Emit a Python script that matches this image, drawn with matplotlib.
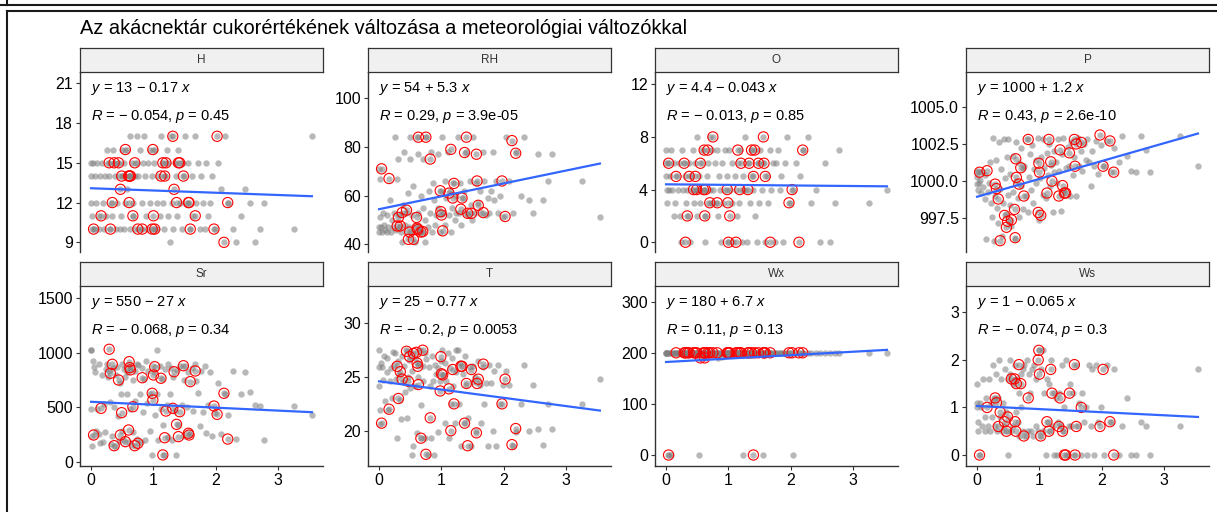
import numpy as np
import matplotlib
matplotlib.use("Agg")
import matplotlib.pyplot as plt
from matplotlib.lines import Line2D
from matplotlib.transforms import blended_transform_factory

plt.rcParams['font.family'] = ['Liberation Sans', 'DejaVu Sans']
plt.rcParams['mathtext.fontset'] = 'custom'
plt.rcParams['mathtext.rm'] = 'Liberation Sans'
plt.rcParams['mathtext.it'] = 'Liberation Sans:italic'

title = "Az akácnektár cukorértékének változása a meteorológiai változókkal"
panels = ['H', 'RH', 'O', 'P', 'Sr', 'T', 'Wx', 'Ws']

# sugar value of the highlighted (acacia) samples
sugar_red = [0.04, 0.16, 0.29, 0.31, 0.34, 0.37, 0.44, 0.47, 0.49, 0.55,
             0.60, 0.61, 0.62, 0.63, 0.67, 0.70, 0.75, 0.82, 0.98, 0.99,
             1.00, 1.02, 1.12, 1.15, 1.18, 1.20, 1.31, 1.33, 1.37, 1.40,
             1.42, 1.48, 1.56, 1.57, 1.59, 1.67, 1.97, 2.02, 2.13, 2.19]

# sugar value of the remaining samples
sugar_grey = [0.00, 0.00, 0.00, 0.01, 0.02, 0.03, 0.05, 0.06, 0.08, 0.10, 0.12, 0.13, 0.15, 0.17, 0.19, 0.21, 0.22, 0.24,
              0.26, 0.27, 0.29, 0.30, 0.32, 0.33, 0.35, 0.36, 0.38, 0.40, 0.41, 0.43, 0.44, 0.46, 0.48, 0.49,
              0.50, 0.52, 0.53, 0.55, 0.57, 0.58, 0.60, 0.62, 0.63, 0.65, 0.67, 0.68, 0.70, 0.71, 0.73, 0.74,
              0.76, 0.78, 0.80, 0.81, 0.83, 0.85, 0.87, 0.88, 0.90, 0.92, 0.94, 0.95, 0.97, 0.99,
              1.01, 1.03, 1.05, 1.06, 1.08, 1.10, 1.12, 1.14, 1.16, 1.17, 1.19, 1.21, 1.23, 1.24,
              1.26, 1.28, 1.30, 1.32, 1.34, 1.36, 1.38, 1.40, 1.43, 1.45, 1.47, 1.49,
              1.51, 1.53, 1.56, 1.58, 1.61, 1.63, 1.66, 1.68, 1.71, 1.74,
              1.76, 1.79, 1.82, 1.85, 1.88, 1.91, 1.94, 1.98,
              2.03, 2.08, 2.14, 2.20, 2.27, 2.32, 2.40, 2.47,
              2.55, 2.62, 2.70, 2.77, 3.26, 3.54]

H_red = [10, 11, 15, 10, 12, 15, 15, 13, 14, 16, 14, 12, 14, 14, 11, 15, 10, 10, 10, 16,
         11, 10, 14, 15, 14, 15, 17, 13, 12, 15, 15, 14, 12, 12, 10, 11, 10, 17, 9, 12]
H_grey = [15, 14, 12, 10, 11, 15, 10, 14, 12, 15, 11, 10, 14, 15, 12, 10, 14, 11,
          16, 15, 14, 10, 12, 11, 16, 15, 14, 10, 12, 15, 14, 10, 11, 16,
          14, 15, 10, 12, 16, 13, 14, 10, 17, 15, 12, 11, 14, 10, 17, 15,
          14, 16, 10, 12, 15, 17, 14, 11, 10, 15, 16, 12, 14, 10,
          15, 16, 12, 10, 14, 11, 17, 15, 12, 10, 14, 16, 11, 15,
          9, 17, 12, 10, 15, 14, 11, 16, 12, 10, 15, 14,
          17, 12, 15, 10, 14, 11, 17, 12, 15, 10,
          14, 12, 10, 15, 11, 12, 14, 10,
          15, 13, 17, 12, 10, 9, 11, 13,
          12, 9, 10, 12, 10, 17]

RH_red = [71, 67, 47.5, 51, 47.5, 53, 54, 42, 45, 42, 51, 46.6, 46, 84, 45, 45.2, 84, 75, 62, 53.4,
          52, 45.5, 61, 79, 59, 65, 54.4, 59, 77.7, 84, 52.7, 52.7, 77, 66, 56, 53, 66, 51.4, 82.6, 77.4]
RH_grey = [47, 45, 71, 51, 67, 47, 45, 53, 48, 46, 45, 52, 47, 58, 45, 50, 47, 53,
           84, 46, 67, 75, 52, 47, 45, 41, 56, 78, 48, 53, 45, 61, 47, 75,
           84, 45, 52, 64, 41, 48, 84, 53, 77, 47, 60, 45, 55, 75, 41, 50,
           84, 47, 62, 53, 78, 45, 65, 58, 48, 52, 55, 77, 45, 62,
           84, 53, 66, 48, 59, 78, 52, 62, 45, 55, 65, 50, 53, 60,
           84, 53, 65, 48, 59, 62, 53, 78, 52, 66, 56, 50,
           84, 53, 65, 57, 62, 53, 78, 66, 52, 59,
           53, 62, 78, 58, 66, 53, 60, 51,
           84, 66, 53, 78, 60, 84, 58, 53,
           77, 58, 66, 77, 66, 51]

O_red = [6, 5, 6, 0, 2, 5, 4, 5, 4, 6, 4, 7, 2, 4, 7, 3, 8, 3, 4, 3,
         0, 2, 0, 7, 4, 6, 4, 6, 7, 5, 7, 6, 8, 6, 5, 0, 3, 4, 0, 7]
O_grey = [6, 7, 5, 4, 3, 6, 4, 5, 7, 4, 6, 2, 3, 5, 4, 6, 2, 0,
          7, 4, 6, 5, 3, 4, 2, 6, 0, 5, 4, 7, 3, 6, 4, 2,
          8, 4, 5, 3, 6, 7, 4, 0, 2, 5, 3, 6, 8, 4, 7, 3,
          4, 6, 3, 7, 2, 5, 4, 0, 6, 3, 7, 4, 5, 0,
          7, 4, 3, 6, 0, 5, 4, 2, 6, 3, 7, 0, 4, 5,
          8, 4, 0, 6, 3, 7, 5, 4, 2, 0, 6, 3,
          7, 4, 6, 0, 5, 3, 7, 4, 6, 0,
          6, 7, 4, 5, 0, 6, 8, 3,
          4, 6, 5, 7, 8, 3, 4, 0,
          6, 0, 3, 7, 3, 4]

P_red = [1000.6, 1000.7, 999.8, 999.5, 998.8, 996.0, 997.7, 996.9, 997.3, 997.4,
         998.1, 996.2, 1001.5, 1000.25, 999.8, 1000.9, 999.0, 1002.8, 997.9, 1001.2,
         1000.6, 997.7, 999.2, 1002.8, 1001.3, 1000.0, 999.0, 1002.1, 999.7, 999.2,
         999.2, 1001.9, 1002.8, 1001.0, 1002.5, 1002.6, 1003.1, 1001.0, 1002.7, 1000.6]
P_grey = [1000.6, 999.8, 1000.3, 999.4, 1000.7, 999.9, 1000.1, 999.2, 1000.6, 999.6, 998.8, 1000.4, 996.1, 999.3, 999.9, 1001.3, 998.5, 997.6,
          1002.9, 996.0, 999.0, 1001.4, 998.2, 997.2, 1002.6, 999.5, 1000.8, 996.3, 998.5, 1002.8, 1000.2, 997.8, 1001.6, 999.1,
          1002.8, 998.4, 1000.5, 997.0, 1001.7, 999.3, 996.1, 1002.6, 1000.0, 998.9, 1001.2, 997.6, 999.7, 1002.2, 1000.9, 998.1,
          1001.0, 999.0, 1002.8, 997.9, 1000.3, 1001.8, 999.4, 1002.4, 998.5, 1000.8, 1001.4, 999.9, 1002.9, 997.4,
          1000.2, 1001.6, 999.1, 1002.8, 1000.9, 998.9, 1001.9, 1000.4, 1002.5, 999.7, 1001.1, 997.9, 1002.0, 1000.6,
          1001.3, 999.9, 1002.8, 1000.7, 998.0, 1001.8, 1002.9, 999.4, 1000.9, 1002.3, 1001.0, 999.0,
          1002.6, 1000.4, 1001.6, 999.0, 1002.9, 1001.0, 1002.0, 1000.7, 1002.5, 1001.4,
          1002.8, 1001.3, 999.7, 1002.0, 1001.0, 1002.7, 1000.5, 1002.4,
          1001.0, 1002.7, 1000.6, 1002.2, 1001.3, 1003.0, 1001.7, 1000.7,
          1000.6, 1003.0, 1002.1, 1000.6, 1003.0, 1001.0]

Sr_red = [245, 490, 1032, 812, 894, 147, 750, 245, 450, 184, 291, 918, 863, 843, 505, 147, 169, 771, 628, 566,
          796, 872, 766, 62, 220, 465, 490, 826, 343, 230, 459, 881, 261, 245, 735, 833, 511, 435, 628, 208]
Sr_grey = [1030, 1030, 480, 240, 140, 920, 870, 820, 280, 480, 900, 250, 170, 800, 180, 530, 270, 850,
           900, 780, 830, 550, 160, 240, 860, 500, 140, 800, 870, 420, 190, 720, 620, 280,
           900, 850, 200, 780, 620, 820, 180, 480, 870, 150, 750, 270, 830, 560, 210, 900,
           890, 620, 180, 860, 460, 760, 200, 920, 540, 830, 280, 620, 60, 880,
           820, 430, 1030, 620, 200, 880, 480, 760, 340, 60, 850, 520, 230, 900,
           620, 860, 200, 780, 470, 60, 840, 340, 880, 520, 240, 750,
           880, 500, 820, 250, 860, 470, 900, 740, 630, 330,
           830, 460, 880, 260, 520, 820, 240, 450,
           720, 250, 620, 430, 830, 210, 620, 820,
           640, 520, 510, 200, 510, 430]

T_red = [20.7, 22.0, 26.0, 23.0, 25.5, 24.8, 27.4, 24.6, 26.9, 27.2, 27.3, 26.3, 26.0, 24.3, 19.3, 27.5, 17.8, 21.2, 23.7, 26.9,
         25.3, 25.2, 23.9, 20.0, 25.7, 22.5, 26.0, 26.0, 20.7, 24.4, 18.6, 25.7, 19.8, 24.4, 24.8, 26.2, 22.5, 24.8, 18.7, 20.2]
T_grey = [27.5, 25.9, 24.2, 21.9, 20.6, 26.3, 25.9, 24.7, 27.0, 22.8, 25.5, 26.8, 21.9, 24.6, 25.8, 23.0, 27.3, 26.1,
          27.2, 24.8, 19.3, 26.5, 25.3, 22.9, 21.1, 27.0, 24.5, 26.0, 23.6, 27.5, 21.2, 25.0, 26.6, 24.0,
          27.3, 17.7, 25.6, 18.6, 24.2, 26.8, 19.8, 26.3, 25.0, 27.5, 22.4, 19.3, 26.0, 24.6, 27.2, 19.3,
          26.7, 17.7, 25.9, 24.2, 19.3, 27.0, 24.6, 17.7, 26.1, 25.3, 19.9, 25.8, 24.6, 26.5,
          27.5, 25.2, 20.7, 26.3, 24.6, 27.2, 19.3, 25.8, 22.5, 26.8, 24.2, 20.7, 27.5, 25.5,
          27.5, 22.5, 26.3, 18.6, 25.3, 20.7, 27.0, 24.3, 21.2, 25.9, 18.6, 24.5,
          26.0, 25.0, 20.0, 26.5, 24.3, 20.7, 25.9, 22.5, 24.4, 18.6,
          26.1, 24.4, 20.0, 25.6, 18.6, 26.1, 22.5, 24.3,
          25.6, 24.3, 18.6, 19.9, 22.5, 26.1, 20.0, 24.3,
          20.2, 18.7, 22.5, 20.2, 22.5, 24.8]

Wx_red = [0, 200, 200, 200, 200, 200, 200, 200, 200, 190, 200, 200, 190, 200, 200, 200, 200, 200, 200, 200,
          200, 200, 200, 200, 200, 200, 200, 200, 200, 0, 200, 200, 200, 200, 200, 200, 200, 200, 200, 200]
Wx_grey = [200, 200, 200, 200, 200, 0, 200, 200, 0, 200, 200, 200, 200, 200, 200, 200, 200, 200,
           200, 200, 200, 200, 200, 200, 200, 200, 200, 200, 200, 200, 200, 196, 200, 200,
           200, 200, 0, 200, 200, 200, 192, 200, 200, 200, 200, 200, 200, 200, 200, 200,
           200, 200, 200, 200, 190, 200, 200, 200, 192, 200, 200, 200, 200, 200,
           200, 200, 200, 200, 200, 200, 200, 200, 200, 200, 200, 200, 0, 200,
           200, 200, 200, 200, 200, 200, 200, 200, 200, 200, 200, 200,
           200, 200, 0, 200, 200, 200, 200, 200, 200, 200,
           200, 200, 200, 200, 200, 200, 200, 200,
           0, 200, 200, 200, 200, 200, 200, 200,
           200, 200, 200, 200, 200, 200]

Ws_red = [0, 1.0, 1.2, 1.1, 0.6, 0.9, 0.7, 0.5, 0.8, 1.6, 1.6, 0.7, 0.5, 1.5, 1.9, 1.5, 0.4, 1.2, 2.0, 2.2,
          1.7, 0.4, 0.7, 0.5, 1.8, 1.3, 0.6, 1.2, 0.5, 0, 0, 1.3, 1.9, 0, 0.6, 1.0, 0.6, 1.8, 0.7, 0]
Ws_grey = [1.5, 1.1, 1.0, 0.7, 0.5, 0, 1.1, 1.0, 0.6, 1.6, 0.5, 0.8, 1.2, 0.6, 1.6, 0.5, 1.1, 0.8,
           1.9, 1.2, 0.6, 1.7, 0.5, 1.2, 2.0, 0.8, 1.6, 0.5, 1.1, 0.6, 1.8, 0.9, 0.5, 1.6,
           0, 2.0, 1.7, 0.5, 1.5, 0.6, 1.9, 0.9, 1.6, 0.7, 1.3, 0.4, 1.7, 1.0, 0.5, 1.8,
           1.9, 0.4, 2.0, 0.5, 1.7, 1.3, 0.5, 1.8, 0.4, 1.9, 0.6, 1.6, 0.5, 2.2,
           0.4, 1.8, 0.5, 2.2, 1.3, 0, 1.6, 0.7, 1.5, 0.5, 2.0, 0.6, 1.3, 0,
           1.2, 0, 0.7, 1.3, 0.6, 1.9, 0.5, 1.0, 2.0, 0, 0.6, 1.5,
           0.6, 1.3, 0, 1.9, 0.6, 1.1, 0, 1.3, 0.7, 1.0,
           0, 1.9, 0.6, 1.8, 0, 1.9, 0.7, 1.0,
           0, 1.9, 0.7, 1.8, 0, 0.6, 1.2, 0,
           0, 0.7, 0.6, 0, 0.6, 1.8]

red_values = [H_red, RH_red, O_red, P_red, Sr_red, T_red, Wx_red, Ws_red]
grey_values = [H_grey, RH_grey, O_grey, P_grey, Sr_grey, T_grey, Wx_grey, Ws_grey]

# linear fit coefficients and correlation results
intercepts = [13.08, 54.4, 4.4, 998.95, 550, 24.6, 182, 1.03]
slopes = [-0.17, 5.3, -0.043, 1.2, -27, -0.77, 6.7, -0.065]
r_values = [-0.054, 0.29, -0.013, 0.43, -0.068, -0.2, 0.11, -0.074]
p_values = [0.45, 3.9e-05, 0.85, 2.6e-10, 0.34, 0.0053, 0.13, 0.3]

y_ticks = [[9, 12, 15, 18, 21], [40, 60, 80, 100], [0, 4, 8, 12], [997.5, 1000, 1002.5, 1005],
           [0, 500, 1000, 1500], [20, 25, 30], [0, 100, 200, 300], [0, 1, 2, 3]]
y_limits = [(8.27, 21.85), (36.8, 110.8), (-0.74, 12.93), (995.24, 1007.33),
            (-39.5, 1613), (16.71, 33.48), (-21.5, 330.7), (-0.231, 3.553)]
x_ticks = [0, 1, 2, 3]

for g, r in zip(grey_values, red_values):
    assert len(g) == len(sugar_grey) and len(r) == len(sugar_red)

W, H = 1217, 512
fig = plt.figure(figsize=(W / 100, H / 100), dpi=100)


def px_box(left, top, width, height):
    return [left / W, 1 - (top + height) / H, width / W, height / H]


def sig2(v):
    return f"{float(f'{v:.2g}'):g}"


# frame lines around the figure
line_kw = dict(color='#1a1a1a', lw=1.5, transform=fig.transFigure)
fig.add_artist(Line2D([0, 1], [1 - 4.8 / H] * 2, **line_kw))
fig.add_artist(Line2D([7 / W] * 2, [1, 1 - 4.8 / H], **line_kw))
fig.add_artist(Line2D([7 / W, 1], [1 - 11 / H] * 2, **line_kw))
fig.add_artist(Line2D([7 / W] * 2, [1 - 11 / H, 0], **line_kw))

fig.text(80 / W, 1 - 29 / H, title, ha='left', va='center', fontsize=14.4, color='black')

col_left = [80, 368, 655, 966]
row_top = [72, 286]
panel_w, panel_h, strip_h = 243, 180, 24.5
x_all = sugar_grey + sugar_red
xs = np.array([min(x_all), max(x_all)])
axis_color = '#333333'

for i, name in enumerate(panels):
    row, col = divmod(i, 4)
    left, top = col_left[col], row_top[row]
    ax = fig.add_axes(px_box(left, top, panel_w, panel_h))

    ax.scatter(x_all, grey_values[i] + red_values[i], s=21, color='#7f7f7f',
               alpha=0.55, linewidths=0, zorder=2)
    ax.scatter(sugar_red, red_values[i], s=54, facecolors='none',
               edgecolors='#ff0000', linewidths=0.8, zorder=3)
    ax.plot(xs, intercepts[i] + slopes[i] * xs, color='#3366ff', lw=1.6, zorder=4)

    a, b = intercepts[i], slopes[i]
    eq = f"$y$ = {sig2(a)} {'+' if b >= 0 else '\u2212'} {sig2(abs(b))} $x$"
    rv = r_values[i]
    stat = f"$R$ = {'\u2212 ' if rv < 0 else ''}{sig2(abs(rv))}, $p$ = {sig2(p_values[i])}"
    trans = blended_transform_factory(ax.transData, ax.transAxes)
    ax.text(0, 0.911, eq, transform=trans, ha='left', va='center', fontsize=10.5)
    ax.text(0, 0.753, stat, transform=trans, ha='left', va='center', fontsize=10.5)

    ax.set_xlim(-0.1775, 3.7175)
    ax.set_ylim(*y_limits[i])
    ax.set_yticks(y_ticks[i])
    if name == 'P':
        ax.set_yticklabels([f"{t:.1f}" for t in y_ticks[i]])
    ax.set_xticks(x_ticks)
    for side in ['top', 'right']:
        ax.spines[side].set_visible(False)
    ax.spines['left'].set_color(axis_color)
    ax.spines['left'].set_linewidth(1.0)
    ax.spines['bottom'].set_color(axis_color)
    ax.spines['bottom'].set_linewidth(1.0)
    ax.tick_params(length=3, width=0.8, color=axis_color, labelsize=11.5,
                   labelcolor='black', pad=2)
    if row == 0:
        ax.spines['bottom'].set_visible(False)
        ax.tick_params(axis='x', bottom=False, labelbottom=False)

    sax = fig.add_axes(px_box(left, top - strip_h, panel_w, strip_h))
    sax.set_facecolor('#f0f0f0')
    sax.set_xticks([])
    sax.set_yticks([])
    for sp in sax.spines.values():
        sp.set_color(axis_color)
        sp.set_linewidth(0.9)
    sax.text(0.5, 0.5, name, ha='center', va='center', fontsize=8.5,
             color='#333333', transform=sax.transAxes)

fig.savefig('out.png', dpi=100)
